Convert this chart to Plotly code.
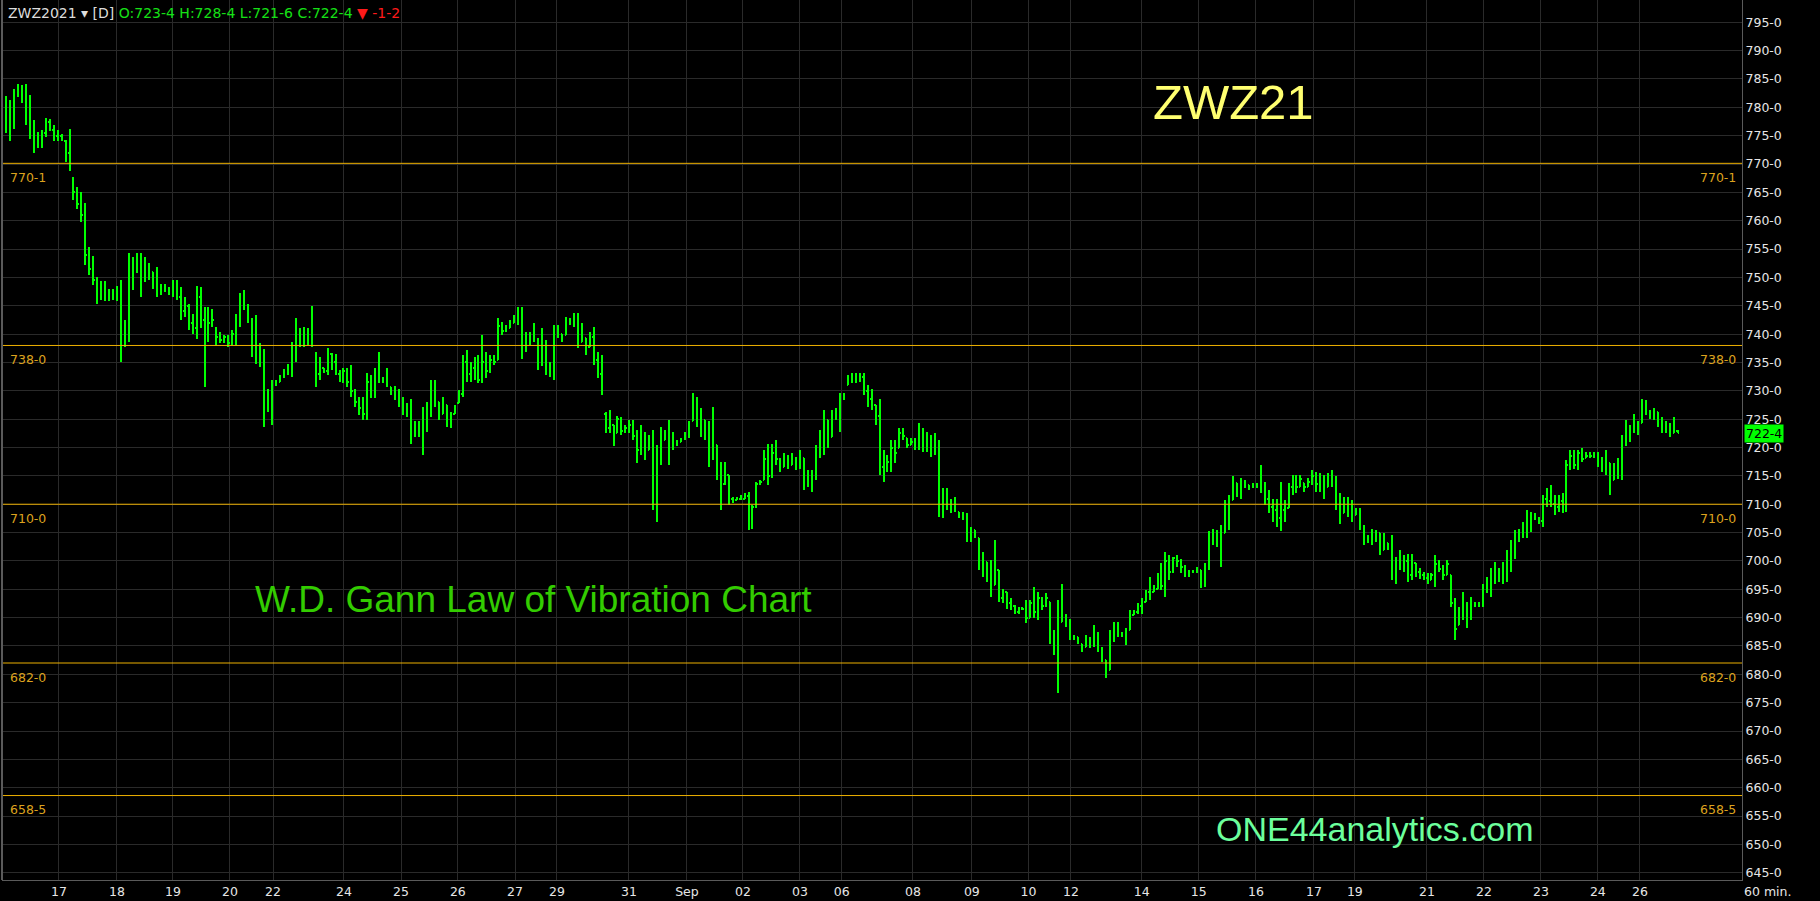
import plotly.graph_objects as go

# ---- data (60-min bars, ZWZ2021) ----
highs = [
    782.0, 781.3, 783.3, 784.2, 783.9, 784.2, 782.2, 777.8, 775.7, 776.0,
    778.2, 777.9, 776.9, 776.0, 775.3, 774.2, 776.1, 767.8, 765.9, 765.1,
    763.1, 755.3, 753.8, 750.1, 749.4, 749.4, 747.9, 747.9, 748.5, 749.5,
    742.5, 754.3, 753.6, 754.3, 754.3, 753.6, 752.5, 751.0, 751.9, 748.9,
    748.8, 748.4, 749.5, 749.6, 748.4, 746.6, 745.4, 743.6, 748.5, 748.4,
    744.8, 744.7, 744.5, 741.3, 740.4, 739.8, 739.8, 740.7, 743.6, 747.2,
    747.8, 745.4, 742.8, 743.4, 738.4, 737.3, 730.4, 731.9, 731.9, 732.8,
    733.8, 734.8, 738.6, 742.8, 741.0, 741.3, 741.0, 744.9, 736.9, 736.0,
    734.0, 737.5, 736.6, 736.5, 733.7, 734.0, 734.0, 734.6, 730.4, 729.0,
    729.0, 733.1, 732.8, 734.0, 736.9, 732.5, 734.0, 730.7, 730.8, 730.4,
    729.0, 727.9, 728.5, 724.6, 724.6, 727.2, 728.1, 731.9, 731.9, 728.1,
    729.0, 727.5, 726.3, 727.5, 730.1, 736.3, 737.2, 735.1, 736.0, 736.3,
    739.8, 736.9, 736.3, 736.3, 742.8, 742.2, 741.6, 742.5, 743.4, 744.8,
    744.8, 740.4, 740.4, 741.9, 739.3, 741.0, 739.0, 735.1, 741.6, 741.6,
    740.1, 743.1, 742.8, 743.7, 743.7, 741.9, 739.3, 740.4, 741.3, 736.9,
    736.3, 726.3, 726.6, 724.0, 725.6, 725.4, 724.0, 724.8, 724.8, 723.1,
    724.0, 722.8, 722.2, 723.1, 720.4, 723.7, 723.1, 724.8, 722.8, 721.4,
    721.6, 722.8, 724.6, 729.6, 729.0, 726.9, 724.8, 724.6, 727.2, 720.4,
    717.5, 717.5, 715.2, 711.3, 711.3, 711.6, 711.9, 712.2, 709.9, 714.0,
    714.3, 719.6, 720.7, 720.7, 721.3, 718.1, 719.0, 718.7, 719.0, 718.4,
    719.6, 718.1, 716.0, 716.0, 720.4, 723.1, 726.6, 724.8, 726.6, 726.9,
    729.6, 729.6, 732.8, 733.2, 733.1, 733.1, 733.1, 731.0, 730.4, 727.5,
    728.5, 719.6, 718.7, 721.3, 721.3, 723.4, 723.4, 721.6, 721.6, 721.6,
    724.3, 723.4, 722.8, 722.2, 722.5, 721.4, 712.8, 712.8, 711.0, 711.3,
    708.7, 708.7, 708.4, 706.0, 705.4, 704.0, 701.6, 699.9, 700.2, 703.7,
    698.4, 695.1, 694.6, 693.4, 692.2, 691.9, 691.9, 693.1, 693.1, 695.4,
    694.6, 693.7, 694.3, 692.8, 687.8, 693.1, 695.9, 690.7, 689.8, 686.9,
    686.6, 685.4, 686.9, 686.6, 688.7, 687.5, 684.8, 682.5, 687.8, 689.3,
    689.3, 687.5, 688.1, 691.3, 691.3, 692.5, 693.4, 694.8, 697.2, 695.7,
    697.8, 699.6, 701.6, 701.0, 700.7, 701.0, 700.4, 699.3, 698.4, 698.4,
    699.0, 698.4, 699.6, 705.2, 705.7, 705.4, 706.3, 710.7, 711.6, 714.9,
    713.7, 714.6, 714.3, 713.4, 713.7, 713.7, 716.9, 714.0, 712.5, 711.0,
    711.0, 714.0, 710.7, 713.7, 715.2, 715.2, 715.2, 713.7, 714.6, 716.0,
    715.7, 715.5, 715.2, 715.5, 716.0, 714.9, 711.9, 711.3, 711.3, 710.7,
    709.3, 709.3, 706.3, 704.6, 705.7, 705.4, 704.9, 704.9, 703.1, 704.6,
    700.7, 701.9, 701.0, 701.3, 701.3, 699.6, 698.7, 698.1, 697.8, 697.8,
    701.0, 700.2, 699.3, 700.2, 697.5, 693.4, 691.9, 694.6, 692.8, 693.7,
    692.8, 692.8, 696.0, 697.2, 698.7, 699.9, 698.7, 699.9, 701.9, 703.7,
    705.4, 705.7, 706.9, 709.0, 708.7, 708.4, 707.8, 711.6, 712.8, 713.4,
    711.6, 711.6, 711.9, 717.8, 719.6, 719.6, 719.6, 719.9, 719.3, 719.3,
    719.3, 719.3, 718.4, 719.6, 717.2, 717.2, 718.1, 722.2, 724.8, 724.0,
    726.0, 724.6, 728.5, 728.4, 726.6, 726.9, 726.3, 725.4, 724.6, 724.3,
    725.4, 723.1,
]
lows = [
    775.4, 774.1, 776.1, 781.9, 780.8, 776.9, 774.4, 771.9, 772.9, 772.9,
    774.8, 775.9, 774.1, 774.1, 774.0, 770.4, 768.8, 763.6, 762.0, 759.8,
    752.2, 750.4, 748.6, 745.3, 746.0, 745.9, 745.9, 746.1, 745.9, 735.1,
    737.8, 738.6, 747.8, 750.7, 746.5, 749.2, 749.5, 748.0, 746.5, 746.9,
    747.5, 746.9, 746.5, 746.0, 742.5, 743.1, 740.7, 740.1, 739.2, 741.0,
    730.7, 738.6, 741.3, 738.1, 738.4, 738.4, 737.8, 738.1, 738.1, 741.3,
    744.2, 741.9, 736.0, 734.8, 734.2, 723.6, 726.3, 724.0, 730.8, 731.6,
    732.2, 732.8, 732.5, 735.1, 737.8, 737.8, 738.1, 737.8, 730.7, 731.9,
    733.1, 732.8, 733.7, 732.8, 731.6, 731.3, 730.7, 729.0, 727.2, 725.7,
    724.8, 724.8, 728.7, 728.7, 731.3, 731.3, 730.7, 729.3, 728.4, 727.2,
    725.7, 725.4, 720.7, 721.9, 721.9, 718.7, 722.8, 725.4, 727.2, 724.8,
    726.0, 723.7, 723.4, 726.0, 727.8, 729.0, 731.6, 731.6, 731.9, 731.3,
    731.3, 732.2, 733.1, 734.6, 735.4, 739.9, 740.4, 741.0, 741.9, 741.6,
    735.7, 736.9, 738.1, 738.7, 733.7, 734.3, 732.8, 732.5, 731.9, 739.3,
    738.7, 739.8, 741.6, 741.3, 737.5, 738.7, 736.3, 737.8, 734.6, 732.2,
    729.3, 722.5, 722.5, 720.2, 722.5, 722.2, 722.5, 722.5, 721.3, 717.2,
    718.7, 717.8, 719.6, 709.0, 706.9, 716.9, 721.3, 716.9, 719.6, 720.2,
    721.0, 721.3, 721.6, 724.6, 723.7, 721.9, 721.3, 716.6, 717.8, 714.3,
    709.0, 713.4, 709.9, 710.2, 710.7, 710.7, 710.9, 705.4, 705.7, 709.3,
    713.4, 714.3, 713.4, 714.6, 716.9, 715.7, 716.6, 716.3, 716.9, 716.0,
    716.3, 712.5, 713.1, 712.2, 714.3, 718.1, 718.7, 719.9, 721.9, 724.8,
    722.8, 728.4, 731.0, 731.3, 731.3, 731.6, 729.3, 727.2, 726.6, 724.0,
    715.1, 714.0, 715.7, 715.7, 717.2, 719.9, 721.3, 719.9, 720.4, 719.6,
    719.6, 719.3, 719.3, 718.4, 718.7, 707.8, 707.5, 709.0, 708.4, 708.7,
    707.5, 707.2, 703.4, 703.4, 704.0, 698.4, 697.2, 696.3, 693.7, 695.7,
    692.8, 692.5, 691.6, 691.3, 690.7, 690.7, 691.3, 689.0, 689.9, 689.9,
    689.6, 691.3, 691.9, 685.4, 683.4, 676.7, 689.3, 688.4, 686.0, 686.0,
    685.4, 684.0, 684.8, 684.6, 684.8, 684.0, 682.2, 679.3, 680.7, 685.7,
    686.6, 686.6, 685.1, 687.8, 690.4, 690.7, 690.7, 692.8, 693.1, 694.6,
    695.1, 694.8, 693.7, 696.6, 697.8, 699.0, 697.8, 697.2, 697.2, 697.8,
    697.8, 695.2, 695.4, 698.4, 702.8, 702.5, 699.0, 704.9, 705.4, 710.7,
    711.3, 711.0, 712.8, 712.6, 712.8, 712.8, 711.9, 709.9, 708.4, 706.9,
    706.0, 705.2, 706.9, 709.3, 711.6, 711.9, 713.1, 712.2, 713.1, 713.4,
    712.2, 712.2, 711.0, 713.1, 713.1, 709.0, 706.6, 708.4, 707.8, 706.9,
    708.1, 705.4, 702.8, 703.1, 702.8, 703.4, 701.0, 701.9, 701.9, 696.6,
    696.0, 698.4, 698.1, 696.3, 696.6, 697.2, 696.9, 696.6, 696.0, 696.6,
    695.4, 698.1, 696.6, 697.5, 691.9, 686.0, 688.7, 689.6, 688.1, 689.6,
    691.9, 691.9, 691.9, 694.3, 693.7, 696.0, 696.3, 696.0, 696.3, 698.1,
    700.4, 703.4, 704.0, 704.0, 705.1, 707.2, 706.6, 706.0, 709.6, 709.6,
    708.1, 708.7, 708.4, 708.7, 716.0, 716.3, 716.0, 717.5, 718.1, 718.1,
    718.1, 716.6, 715.7, 715.1, 711.6, 714.3, 714.5, 714.3, 720.2, 721.0,
    722.5, 722.2, 724.3, 725.7, 725.1, 724.8, 723.7, 722.5, 722.5, 721.9,
    722.5, 722.5,
]
opens = [
    780.0, 779.0, 777.5, 782.0, 783.5, 782.0, 778.5, 776.0, 773.0, 774.5,
    775.5, 777.5, 776.0, 775.0, 775.0, 774.0, 772.0, 767.5, 765.0, 763.0,
    761.0, 754.0, 751.5, 749.5, 747.0, 748.0, 746.5, 747.5, 746.5, 748.0,
    739.0, 741.5, 752.5, 751.0, 753.0, 752.0, 750.5, 751.0, 749.0, 747.5,
    748.5, 748.0, 747.5, 748.5, 746.5, 744.0, 745.0, 742.0, 741.0, 746.5,
    742.5, 739.0, 742.0, 741.0, 739.5, 739.0, 739.5, 738.5, 740.0, 742.5,
    746.0, 745.0, 742.5, 738.0, 735.5, 736.5, 727.0, 728.0, 731.0, 731.6,
    732.5, 733.0, 734.0, 738.0, 740.0, 739.0, 740.5, 739.5, 736.5, 733.0,
    734.0, 733.5, 736.5, 735.0, 733.0, 732.5, 733.5, 731.5, 730.0, 728.0,
    727.0, 726.0, 731.5, 730.0, 733.0, 732.0, 731.5, 730.7, 729.5, 729.0,
    728.0, 726.5, 726.0, 722.0, 723.5, 722.5, 723.0, 727.0, 730.5, 728.0,
    726.0, 727.5, 724.5, 726.0, 727.8, 729.5, 735.0, 733.0, 734.0, 735.5,
    732.0, 735.0, 733.5, 735.5, 735.5, 741.5, 740.5, 741.0, 742.0, 743.0,
    743.5, 737.0, 739.5, 739.0, 739.0, 735.0, 736.5, 734.0, 733.5, 740.5,
    740.0, 739.8, 742.5, 742.0, 742.5, 738.7, 739.3, 737.8, 739.5, 735.5,
    733.0, 726.0, 723.5, 724.0, 722.5, 725.0, 723.0, 723.5, 724.0, 722.0,
    719.5, 722.5, 719.6, 721.0, 711.0, 719.0, 721.3, 722.0, 722.5, 720.5,
    721.0, 721.5, 722.0, 724.6, 728.5, 725.0, 724.8, 722.0, 720.0, 720.4,
    716.0, 713.5, 715.2, 711.0, 710.7, 711.0, 711.0, 711.5, 706.0, 709.5,
    713.5, 714.3, 718.0, 715.0, 719.0, 718.0, 716.6, 718.0, 717.0, 718.0,
    716.5, 718.1, 714.0, 715.0, 715.5, 719.5, 721.5, 724.8, 721.9, 726.0,
    725.5, 729.0, 731.0, 732.0, 732.5, 732.0, 732.5, 730.0, 728.5, 727.5,
    725.5, 716.5, 716.0, 717.5, 720.0, 719.9, 722.5, 721.6, 720.5, 721.0,
    720.0, 722.5, 720.5, 721.5, 719.5, 721.0, 710.0, 711.5, 710.0, 709.5,
    708.7, 708.0, 708.0, 704.5, 705.4, 704.0, 699.5, 699.9, 697.5, 695.7,
    698.4, 693.5, 694.5, 692.5, 692.0, 691.0, 691.5, 691.5, 690.0, 692.5,
    691.0, 693.5, 692.0, 692.8, 686.5, 684.5, 689.3, 690.5, 689.0, 686.5,
    686.5, 685.4, 684.8, 686.0, 685.5, 686.0, 684.5, 682.5, 680.7, 687.0,
    688.5, 687.0, 687.0, 687.8, 690.5, 691.0, 692.0, 692.8, 694.5, 694.6,
    695.1, 697.0, 695.5, 700.0, 698.0, 700.5, 700.0, 699.0, 698.0, 698.0,
    698.0, 698.4, 696.0, 699.0, 704.5, 703.0, 704.5, 705.0, 710.0, 710.7,
    713.7, 712.0, 714.0, 713.4, 713.0, 713.5, 713.0, 713.5, 711.0, 709.5,
    709.0, 707.5, 709.0, 709.3, 713.0, 714.5, 713.1, 713.7, 713.1, 714.0,
    715.0, 713.5, 714.5, 713.1, 715.0, 714.0, 710.0, 708.4, 710.5, 709.0,
    708.1, 709.0, 706.0, 703.5, 704.0, 703.5, 704.9, 702.0, 703.1, 702.5,
    698.0, 699.5, 699.0, 700.0, 697.5, 699.6, 698.0, 697.5, 697.0, 696.6,
    697.5, 699.5, 698.5, 697.5, 697.5, 692.5, 688.7, 690.5, 692.0, 690.0,
    692.5, 692.5, 692.0, 695.5, 696.0, 697.5, 698.5, 697.0, 699.0, 698.5,
    701.5, 704.5, 704.5, 706.0, 705.5, 708.0, 707.5, 707.0, 711.0, 710.5,
    710.0, 709.5, 710.5, 709.0, 717.0, 718.5, 717.0, 719.0, 718.1, 718.5,
    718.5, 719.0, 717.0, 716.5, 717.2, 714.3, 716.0, 715.0, 721.5, 722.0,
    723.0, 724.0, 724.3, 727.5, 726.0, 726.0, 726.3, 724.5, 723.5, 724.0,
    722.5, 723.0,
]
closes = [
    780.5, 777.5, 782.0, 783.5, 782.0, 778.5, 776.0, 773.0, 774.5, 775.5,
    777.5, 776.0, 775.0, 775.5, 774.5, 772.0, 769.5, 765.0, 763.0, 761.0,
    754.0, 751.5, 749.5, 747.0, 748.0, 746.5, 747.5, 746.5, 748.0, 739.0,
    741.5, 752.5, 751.0, 753.0, 752.0, 750.5, 751.5, 749.0, 747.5, 748.5,
    748.0, 747.5, 748.5, 746.5, 744.0, 745.0, 742.0, 741.0, 746.5, 742.5,
    732.0, 742.0, 742.5, 739.5, 739.0, 739.5, 738.5, 740.0, 742.5, 746.0,
    745.0, 742.5, 738.0, 735.5, 736.5, 725.0, 728.0, 731.0, 731.5, 732.5,
    733.0, 734.0, 738.0, 740.0, 739.0, 740.5, 739.5, 738.5, 733.0, 734.5,
    733.5, 736.5, 735.0, 733.0, 732.5, 733.5, 731.5, 730.0, 728.0, 727.0,
    726.0, 731.5, 730.0, 733.0, 732.0, 731.5, 731.0, 729.5, 729.0, 728.0,
    726.5, 726.0, 722.0, 723.5, 722.5, 721.0, 727.0, 730.5, 728.0, 726.0,
    728.0, 724.5, 726.0, 727.0, 729.5, 735.0, 733.0, 734.0, 735.5, 732.0,
    735.0, 733.5, 735.5, 735.0, 741.5, 740.5, 741.0, 742.0, 743.0, 743.5,
    737.0, 739.5, 739.0, 741.0, 735.0, 736.5, 734.0, 733.5, 740.5, 740.0,
    739.5, 742.5, 742.0, 742.5, 738.5, 740.5, 737.0, 739.5, 735.5, 733.0,
    730.0, 723.5, 725.0, 721.5, 725.0, 723.0, 723.5, 724.0, 722.0, 719.5,
    722.5, 719.0, 721.0, 711.0, 719.0, 721.0, 722.0, 722.5, 720.5, 721.0,
    721.5, 722.0, 724.0, 728.5, 725.0, 725.5, 722.0, 720.0, 720.5, 716.0,
    711.5, 715.5, 711.0, 710.5, 711.0, 711.0, 711.5, 706.0, 709.5, 713.5,
    714.0, 718.0, 715.0, 719.0, 718.0, 716.5, 718.0, 717.0, 718.0, 716.5,
    718.5, 714.0, 715.0, 715.5, 719.5, 721.5, 725.5, 721.0, 726.0, 725.5,
    729.0, 729.5, 732.0, 732.5, 732.0, 732.5, 730.0, 728.5, 729.5, 725.5,
    716.5, 716.0, 717.5, 720.0, 719.0, 722.5, 722.0, 720.5, 721.0, 720.0,
    722.5, 720.5, 721.5, 719.5, 721.0, 710.0, 711.5, 710.0, 709.5, 710.5,
    708.0, 708.0, 704.5, 705.5, 704.5, 699.5, 700.5, 697.5, 695.0, 702.5,
    693.5, 694.5, 692.5, 692.0, 691.0, 691.5, 691.5, 690.0, 692.5, 691.0,
    693.5, 692.0, 693.5, 686.5, 684.5, 677.0, 690.5, 689.0, 686.5, 686.5,
    685.5, 684.5, 686.0, 685.5, 686.0, 684.5, 683.0, 680.5, 687.0, 688.5,
    687.0, 687.0, 687.5, 690.5, 691.0, 692.0, 692.5, 694.5, 694.0, 695.0,
    697.0, 695.5, 700.0, 698.0, 700.5, 700.0, 699.0, 698.0, 698.0, 698.0,
    698.5, 696.0, 699.0, 704.5, 703.0, 704.5, 705.0, 710.0, 710.5, 714.0,
    712.0, 714.0, 713.5, 713.0, 713.5, 713.0, 713.5, 711.0, 709.5, 709.0,
    707.5, 709.0, 708.0, 713.0, 714.5, 713.0, 714.5, 713.0, 714.0, 715.0,
    713.5, 714.5, 712.0, 715.0, 714.0, 710.0, 708.0, 710.5, 709.0, 707.5,
    709.0, 706.0, 703.5, 704.0, 703.5, 705.0, 702.0, 703.5, 702.5, 698.0,
    699.5, 699.0, 700.0, 697.5, 700.0, 698.0, 697.5, 697.0, 696.5, 697.5,
    699.5, 698.5, 697.5, 699.5, 692.5, 688.0, 690.5, 692.0, 690.0, 692.5,
    692.5, 692.0, 695.5, 696.0, 697.5, 698.5, 697.0, 699.0, 698.5, 701.5,
    704.5, 704.5, 706.0, 705.5, 708.0, 707.5, 707.0, 711.0, 710.5, 710.0,
    709.5, 710.5, 709.0, 717.0, 718.5, 717.0, 719.0, 718.0, 718.5, 718.5,
    719.0, 717.0, 716.5, 718.0, 713.5, 716.0, 715.0, 721.5, 722.0, 723.0,
    724.0, 723.5, 727.5, 726.0, 726.0, 726.5, 724.5, 723.5, 724.0, 722.5,
    725.0, 722.5,
]

# day separators (bar position) and their labels
day_pos = [13.35, 27.95, 42.05, 56.4, 67.25, 85.1, 99.5, 113.8, 128.2, 138.75,
           156.9, 171.5, 185.6, 199.95, 210.5, 228.4, 243.25, 257.5, 268.2, 286.05,
           300.4, 314.8, 329.4, 339.7, 357.85, 372.2, 386.55, 400.9, 411.5]
day_labels = ["17", "18", "19", "20", "22", "24", "25", "26", "27", "29",
              "31", "Sep", "02", "03", "06", "08", "09", "10", "12", "14",
              "15", "16", "17", "19", "21", "22", "23", "24", "26"]

# Gann vibration levels
levels = [770.125, 738.0, 710.0, 682.0, 658.625]
level_labels = ["770-1", "738-0", "710-0", "682-0", "658-5"]

price_ticks = list(range(645, 800, 5))
last_price = 722.5
last_label = "722-4"

BAR = "#00FF00"
GRID = "#2a2a2a"
LEVEL = "#EDB000"
LEVEL_TXT = "#DCA21E"
AXIS_TXT = "#E6E6E6"
FONT = "DejaVu Sans"

fig = go.Figure()
fig.add_trace(go.Ohlc(
    x=list(range(len(highs))), open=opens, high=highs, low=lows, close=closes,
    increasing=dict(line=dict(color=BAR, width=2)),
    decreasing=dict(line=dict(color=BAR, width=2)),
    tickwidth=0.3, showlegend=False, hoverinfo="skip",
))

# horizontal levels + labels on both sides
for lv, lab in zip(levels, level_labels):
    fig.add_shape(type="line", xref="paper", x0=0, x1=1, yref="y", y0=lv, y1=lv,
                  line=dict(color=LEVEL, width=1))
    fig.add_annotation(x=0.0035, xref="paper", y=lv, yref="y", yshift=-14,
                       text=lab, showarrow=False, xanchor="left", yanchor="middle",
                       font=dict(family=FONT, size=12.5, color=LEVEL_TXT))
    fig.add_annotation(x=0.9975, xref="paper", y=lv, yref="y", yshift=-14,
                       text=lab, showarrow=False, xanchor="right", yanchor="middle",
                       font=dict(family=FONT, size=12.5, color=LEVEL_TXT))

# left frame line
fig.add_shape(type="line", xref="paper", x0=0, x1=0, yref="paper", y0=0, y1=1,
              line=dict(color="#5a5a5a", width=2))

# header
fig.add_annotation(
    x=0.0025, xref="paper", y=1, yref="paper", yshift=-3, yanchor="top", xanchor="left",
    showarrow=False, align="left",
    text=("ZWZ2021 ▾ [D] <span style='color:#16E016'>O:723-4 H:728-4 L:721-6 C:722-4</span> "
          "<span style='color:#FF1A1A'>▼ -1-2</span>"),
    font=dict(family=FONT, size=14, color="#DDDDDD"),
)

fig.add_annotation(x=0.708, xref="paper", y=0.884, yref="paper", text="ZWZ21",
                   xanchor="center", yanchor="middle", showarrow=False,
                   font=dict(family="Liberation Sans", size=49, color="#FFFF70"))
fig.add_annotation(x=0.1443, xref="paper", y=0.3193, yref="paper", xanchor="left",
                   yanchor="middle", text="W.D. Gann Law of Vibration Chart", showarrow=False,
                   font=dict(family="Liberation Sans", size=37, color="#33CC00"))
fig.add_annotation(x=0.6966, xref="paper", y=0.058, yref="paper", xanchor="left",
                   yanchor="middle", text="ONE44analytics.com", showarrow=False,
                   font=dict(family="Liberation Sans", size=34, color="#6CFF9C"))

# last price tag
fig.add_annotation(x=1, xref="paper", xshift=2, y=last_price, yref="y", xanchor="left",
                   yanchor="middle", text=last_label, showarrow=False, bgcolor="#00FF00",
                   borderpad=1, font=dict(family=FONT, size=12.5, color="#000000"))
fig.add_annotation(x=1.0144, xref="paper", y=-0.0136, yref="paper", text="60 min.",
                   xanchor="center", yanchor="middle", showarrow=False,
                   font=dict(family=FONT, size=12.5, color=AXIS_TXT))

fig.update_layout(
    width=1820, height=901,
    margin=dict(l=2, r=78, t=0, b=21, pad=0),
    paper_bgcolor="#000000", plot_bgcolor="#000000",
    xaxis=dict(
        range=[-1.0, 437.2], rangeslider=dict(visible=False),
        tickmode="array", tickvals=day_pos, ticktext=day_labels,
        showgrid=True, gridcolor=GRID, gridwidth=1, zeroline=False,
        showline=True, linecolor="#5a5a5a", linewidth=1, ticks="",
        tickfont=dict(family=FONT, size=12.5, color=AXIS_TXT),
    ),
    yaxis=dict(
        range=[643.73, 798.93], side="right",
        tickmode="array", tickvals=price_ticks, ticktext=[f"{v}-0" for v in price_ticks],
        showgrid=True, gridcolor=GRID, gridwidth=1, zeroline=False,
        showline=True, linecolor="#5a5a5a", linewidth=1, ticks="",
        tickfont=dict(family=FONT, size=12.5, color=AXIS_TXT),
    ),
    hovermode=False,
)

# flush page corner, crisp bars like the trading platform
page_js = (
    "document.body.style.margin='0';document.body.style.background='#000';"
    "document.querySelectorAll('.ohlc path, .ohlc .ohlc').forEach(function(p){"
    "p.style.shapeRendering='crispEdges';});"
)
fig.write_html("out.html", post_script=page_js, config={"displayModeBar": False})
